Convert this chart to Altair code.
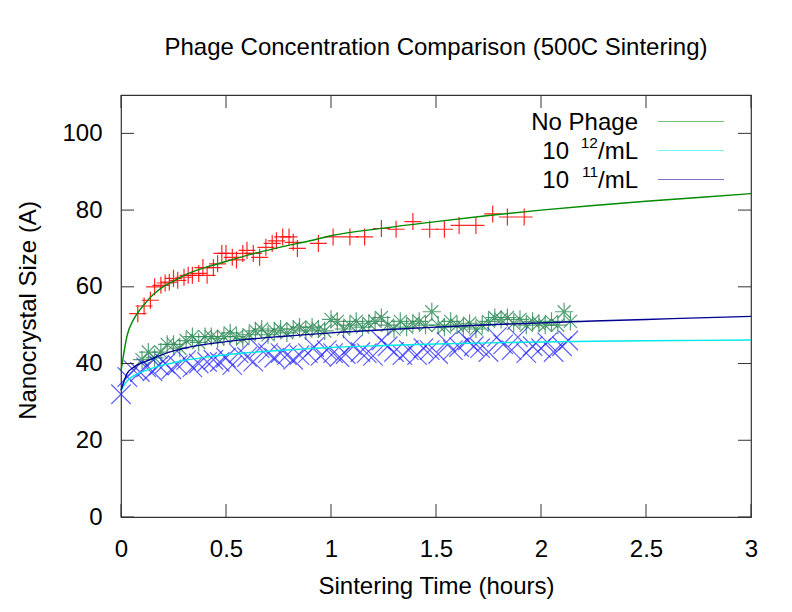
import altair as alt
import pandas as pd

TITLE = "Phage Concentration Comparison (500C Sintering)"
X_TITLE = "Sintering Time (hours)"
Y_TITLE = "Nanocrystal Size (A)"
X_TICKS = [0, 0.5, 1, 1.5, 2, 2.5, 3]
Y_TICKS = [0, 20, 40, 60, 80, 100]
SERIES = ["No Phage", "10^12/mL", "10^11/mL"]

# No Phage measurements (red +)
nophage_t = [0.08, 0.11, 0.14, 0.16, 0.19, 0.21, 0.23, 0.25, 0.27, 0.30, 0.32, 0.34, 0.37, 0.39,
             0.41, 0.44, 0.46, 0.48, 0.50, 0.53, 0.55, 0.58, 0.60, 0.63, 0.66, 0.69, 0.72, 0.74,
             0.77, 0.80, 0.82, 0.84, 0.94, 1.01, 1.09, 1.16, 1.24, 1.31, 1.39, 1.47, 1.54, 1.61,
             1.69, 1.77, 1.84, 1.92]
nophage_s = [53, 55, 56.5, 60, 60.4, 61, 61.2, 62.2, 61.7, 62.5, 63, 63, 63.5, 65,
             63, 65, 66, 68.7, 68.7, 67.7, 67, 68.7, 69.5, 68.7, 67.7, 70.3, 71.3, 72,
             73, 73, 71.6, 70, 71.3, 73, 73, 73, 75.2, 75, 77, 75, 75, 76,
             76, 79, 78.2, 78.2]

# green asterisks
e11_t = [0.10, 0.13, 0.16, 0.19, 0.22, 0.25, 0.28, 0.31, 0.34, 0.37, 0.40, 0.43, 0.46, 0.49,
         0.52, 0.55, 0.58, 0.61, 0.64, 0.67, 0.70, 0.73, 0.76, 0.79, 0.82, 0.85, 0.88, 0.91,
         0.94, 0.97, 1.00, 1.03, 1.06, 1.09, 1.12, 1.15, 1.18, 1.21, 1.24, 1.27, 1.30, 1.33,
         1.36, 1.39, 1.42, 1.45, 1.48, 1.51, 1.54, 1.57, 1.60, 1.63, 1.66, 1.69, 1.72, 1.75,
         1.78, 1.81, 1.84, 1.87, 1.90, 1.93, 1.96, 1.99, 2.02, 2.05, 2.08, 2.11, 2.14]
e11_s = [41, 43, 41.5, 43, 45, 45, 44, 46, 47, 45.5, 47, 47, 46.5, 47,
         48, 47, 46.5, 47.5, 48.5, 49, 47.5, 48.5, 49, 48, 49, 49.5, 48.5, 49.5,
         49, 48.5, 51.5, 51, 49, 50, 51, 49.5, 50.5, 51, 52, 50, 49, 51,
         49.5, 50.5, 51, 50, 53.5, 50, 49.5, 51, 50, 49.5, 50.5, 49, 50, 51,
         52, 51.5, 52, 50.5, 51.5, 50, 51, 50.5, 50, 51, 50, 53.5, 51]

# blue x marks
e12_t = [0.00, 0.03, 0.06, 0.09, 0.12, 0.15, 0.18, 0.21, 0.24, 0.27, 0.31, 0.34, 0.37, 0.41,
         0.44, 0.47, 0.50, 0.53, 0.56, 0.60, 0.63, 0.66, 0.70, 0.73, 0.76, 0.79, 0.82, 0.85,
         0.89, 0.92, 0.95, 0.98, 1.01, 1.04, 1.07, 1.10, 1.14, 1.17, 1.20, 1.24, 1.27, 1.30,
         1.34, 1.37, 1.41, 1.44, 1.47, 1.51, 1.55, 1.58, 1.61, 1.65, 1.68, 1.71, 1.75, 1.79,
         1.82, 1.86, 1.89, 1.93, 1.96, 2.00, 2.03, 2.06, 2.10, 2.13]
e12_s = [32, 36.5, 38.3, 37.8, 39, 38, 39.5, 40, 38.5, 39.6, 40.9, 39, 40, 40.4,
         41, 40.4, 41.5, 39.6, 42.7, 41.7, 40.5, 44, 42.7, 41.5, 42.7, 42.2, 41, 42.2,
         42.7, 44.3, 42, 43.5, 42.7, 41.7, 42.5, 44.8, 43, 42.7, 42, 46, 44.5, 43,
         42.2, 43.5, 42.2, 44, 43.5, 42.5, 45.6, 43.5, 44.3, 46, 44.5, 44, 43, 46.9,
         45, 43.5, 46.9, 42.7, 44.5, 44, 45.5, 43, 44.5, 46]

# fitted curves
fit_t = [0, 0.03, 0.06, 0.09, 0.12, 0.15, 0.2, 0.25, 0.3, 0.4, 0.5, 0.6, 0.75, 0.9, 1.0,
         1.25, 1.5, 1.75, 2.0, 2.25, 2.5, 2.75, 3.0]
fit_nophage = [38, 47.5, 51.5, 54, 56, 57.8, 60, 61.5, 63, 65, 66.6, 68.2, 70.2, 72, 73.3,
               75.3, 77, 78.6, 80, 81.2, 82.3, 83.3, 84.3]
fit_e12 = [33, 35.5, 36.8, 37.6, 38.2, 38.8, 39.6, 40.2, 40.8, 41.6, 42.3, 42.8, 43.4, 43.9, 44.2,
           44.7, 45.1, 45.4, 45.6, 45.8, 45.95, 46.05, 46.15]
fit_e11 = [33, 37.5, 39, 40, 40.6, 41.3, 42.4, 43.3, 44, 45, 45.7, 46.3, 47, 47.6, 48,
           48.8, 49.5, 50.1, 50.6, 51.1, 51.5, 51.9, 52.3]

FONT = "Liberation Sans"
FS = 24
W, H = 630, 422
BORDER = "#333333"
C_NOPHAGE = "#008a00"
C_E12 = "#00e8e8"
C_E11 = "#000090"

xs = alt.Scale(domain=[0, 3], nice=False, zero=False)
ys = alt.Scale(domain=[0, 110], nice=False)

xaxis = alt.Axis(values=X_TICKS, format="~g", title=X_TITLE, grid=False, domain=False,
                 ticks=False, tickSize=0, labelFont=FONT, labelFontSize=FS, labelColor="black",
                 labelBaseline="alphabetic", labelPadding=39.5, labelFlush=False,
                 titleFont=FONT, titleFontSize=FS, titleFontWeight="normal", titleColor="black",
                 titleBaseline="alphabetic", titleX=W / 2, titleY=76.5)
yaxis = alt.Axis(values=Y_TICKS, title=Y_TITLE, grid=False, domain=False,
                 ticks=False, tickSize=0, labelFont=FONT, labelFontSize=FS, labelColor="black",
                 labelPadding=19, labelFlush=False,
                 titleFont=FONT, titleFontSize=FS, titleFontWeight="normal", titleColor="black",
                 titleBaseline="alphabetic", titleAngle=270, titleAlign="center",
                 titleX=-85.5, titleY=215)

PLUS = "M-1,0L1,0M0,-1L0,1"
CROSS = "M-1,-1L1,1M-1,1L1,-1"
STAR = "M-1,0L1,0M0,-1L0,1M-0.72,-0.72L0.72,0.72M-0.72,0.72L0.72,-0.72"


def points(t, s, shape, color, size, opacity):
    df = pd.DataFrame({"t": t, "s": s})
    return alt.Chart(df).mark_point(shape=shape, filled=False, color=color, size=size,
                                    strokeWidth=1.2, opacity=opacity).encode(
        x=alt.X("t:Q", scale=xs, axis=xaxis), y=alt.Y("s:Q", scale=ys, axis=yaxis))


def curve(t, s, color):
    df = pd.DataFrame({"t": t, "s": s})
    return alt.Chart(df).mark_line(color=color, strokeWidth=1.4, interpolate="monotone").encode(
        x=alt.X("t:Q", scale=xs, axis=xaxis), y=alt.Y("s:Q", scale=ys, axis=yaxis))


yt = pd.DataFrame({"v": Y_TICKS})
xt = pd.DataFrame({"v": X_TICKS})
tick_layers = [
    alt.Chart(yt).mark_rule(color=BORDER, strokeWidth=1).encode(
        y=alt.Y("v:Q", scale=ys, axis=yaxis), x=alt.value(0), x2=alt.value(13)),
    alt.Chart(yt).mark_rule(color=BORDER, strokeWidth=1).encode(
        y=alt.Y("v:Q", scale=ys, axis=yaxis), x=alt.value(W - 13), x2=alt.value(W)),
    alt.Chart(xt).mark_rule(color=BORDER, strokeWidth=1).encode(
        x=alt.X("v:Q", scale=xs, axis=xaxis), y=alt.value(H), y2=alt.value(H - 13)),
    alt.Chart(xt).mark_rule(color=BORDER, strokeWidth=1).encode(
        x=alt.X("v:Q", scale=xs, axis=xaxis), y=alt.value(0), y2=alt.value(13)),
]


def label(text, x, y, size=FS):
    df = pd.DataFrame({"s": [text]})
    return alt.Chart(df).mark_text(align="right", baseline="alphabetic", font=FONT,
                                   fontSize=size, color="black").encode(
        text="s:N", x=alt.value(x), y=alt.value(y))


def sample(color, y):
    df = pd.DataFrame({"s": [0]})
    return alt.Chart(df).mark_rule(color=color, strokeWidth=1, opacity=0.55).encode(
        x=alt.value(537), x2=alt.value(603), y=alt.value(y))


def split(name):
    base, rest = name.split("^")
    sup, tail = rest.split("/")
    return base, sup, "/" + tail


base0, sup0, tail0 = split(SERIES[1])
base1, sup1, tail1 = split(SERIES[2])

legend_layers = [
    label(SERIES[0], 517, 34.5), sample(C_NOPHAGE, 26.5),
    label(tail0, 517, 63.5), label(sup0, 477, 52.5, 15.5), label(base0, 448, 63.5), sample(C_E12, 55.5),
    label(tail1, 517, 92.5), label(sup1, 477, 81.5, 15.5), label(base1, 448, 92.5), sample(C_E11, 84.5),
]

layers = [
    points(e11_t, e11_s, STAR, "#2e8b57", 330, 0.8),
    points(e12_t, e12_s, CROSS, "#2020ff", 380, 0.7),
    points(nophage_t, nophage_s, PLUS, "#ff0000", 290, 0.85),
    curve(fit_t, fit_e12, C_E12),
    curve(fit_t, fit_e11, C_E11),
    curve(fit_t, fit_nophage, C_NOPHAGE),
] + tick_layers + legend_layers

chart = alt.layer(*layers).properties(
    width=W, height=H,
    padding={"left": 121, "top": 95, "right": 41, "bottom": 95},
    autosize=alt.AutoSizeParams(type="none"),
    title=alt.TitleParams(TITLE, font=FONT, fontSize=FS, fontWeight="normal", color="black",
                          anchor="middle", baseline="alphabetic", offset=15.5),
    background="white",
).configure_view(stroke=BORDER, strokeWidth=1.2)

chart.save("out.html", embed_options={"renderer": "svg", "actions": False})
